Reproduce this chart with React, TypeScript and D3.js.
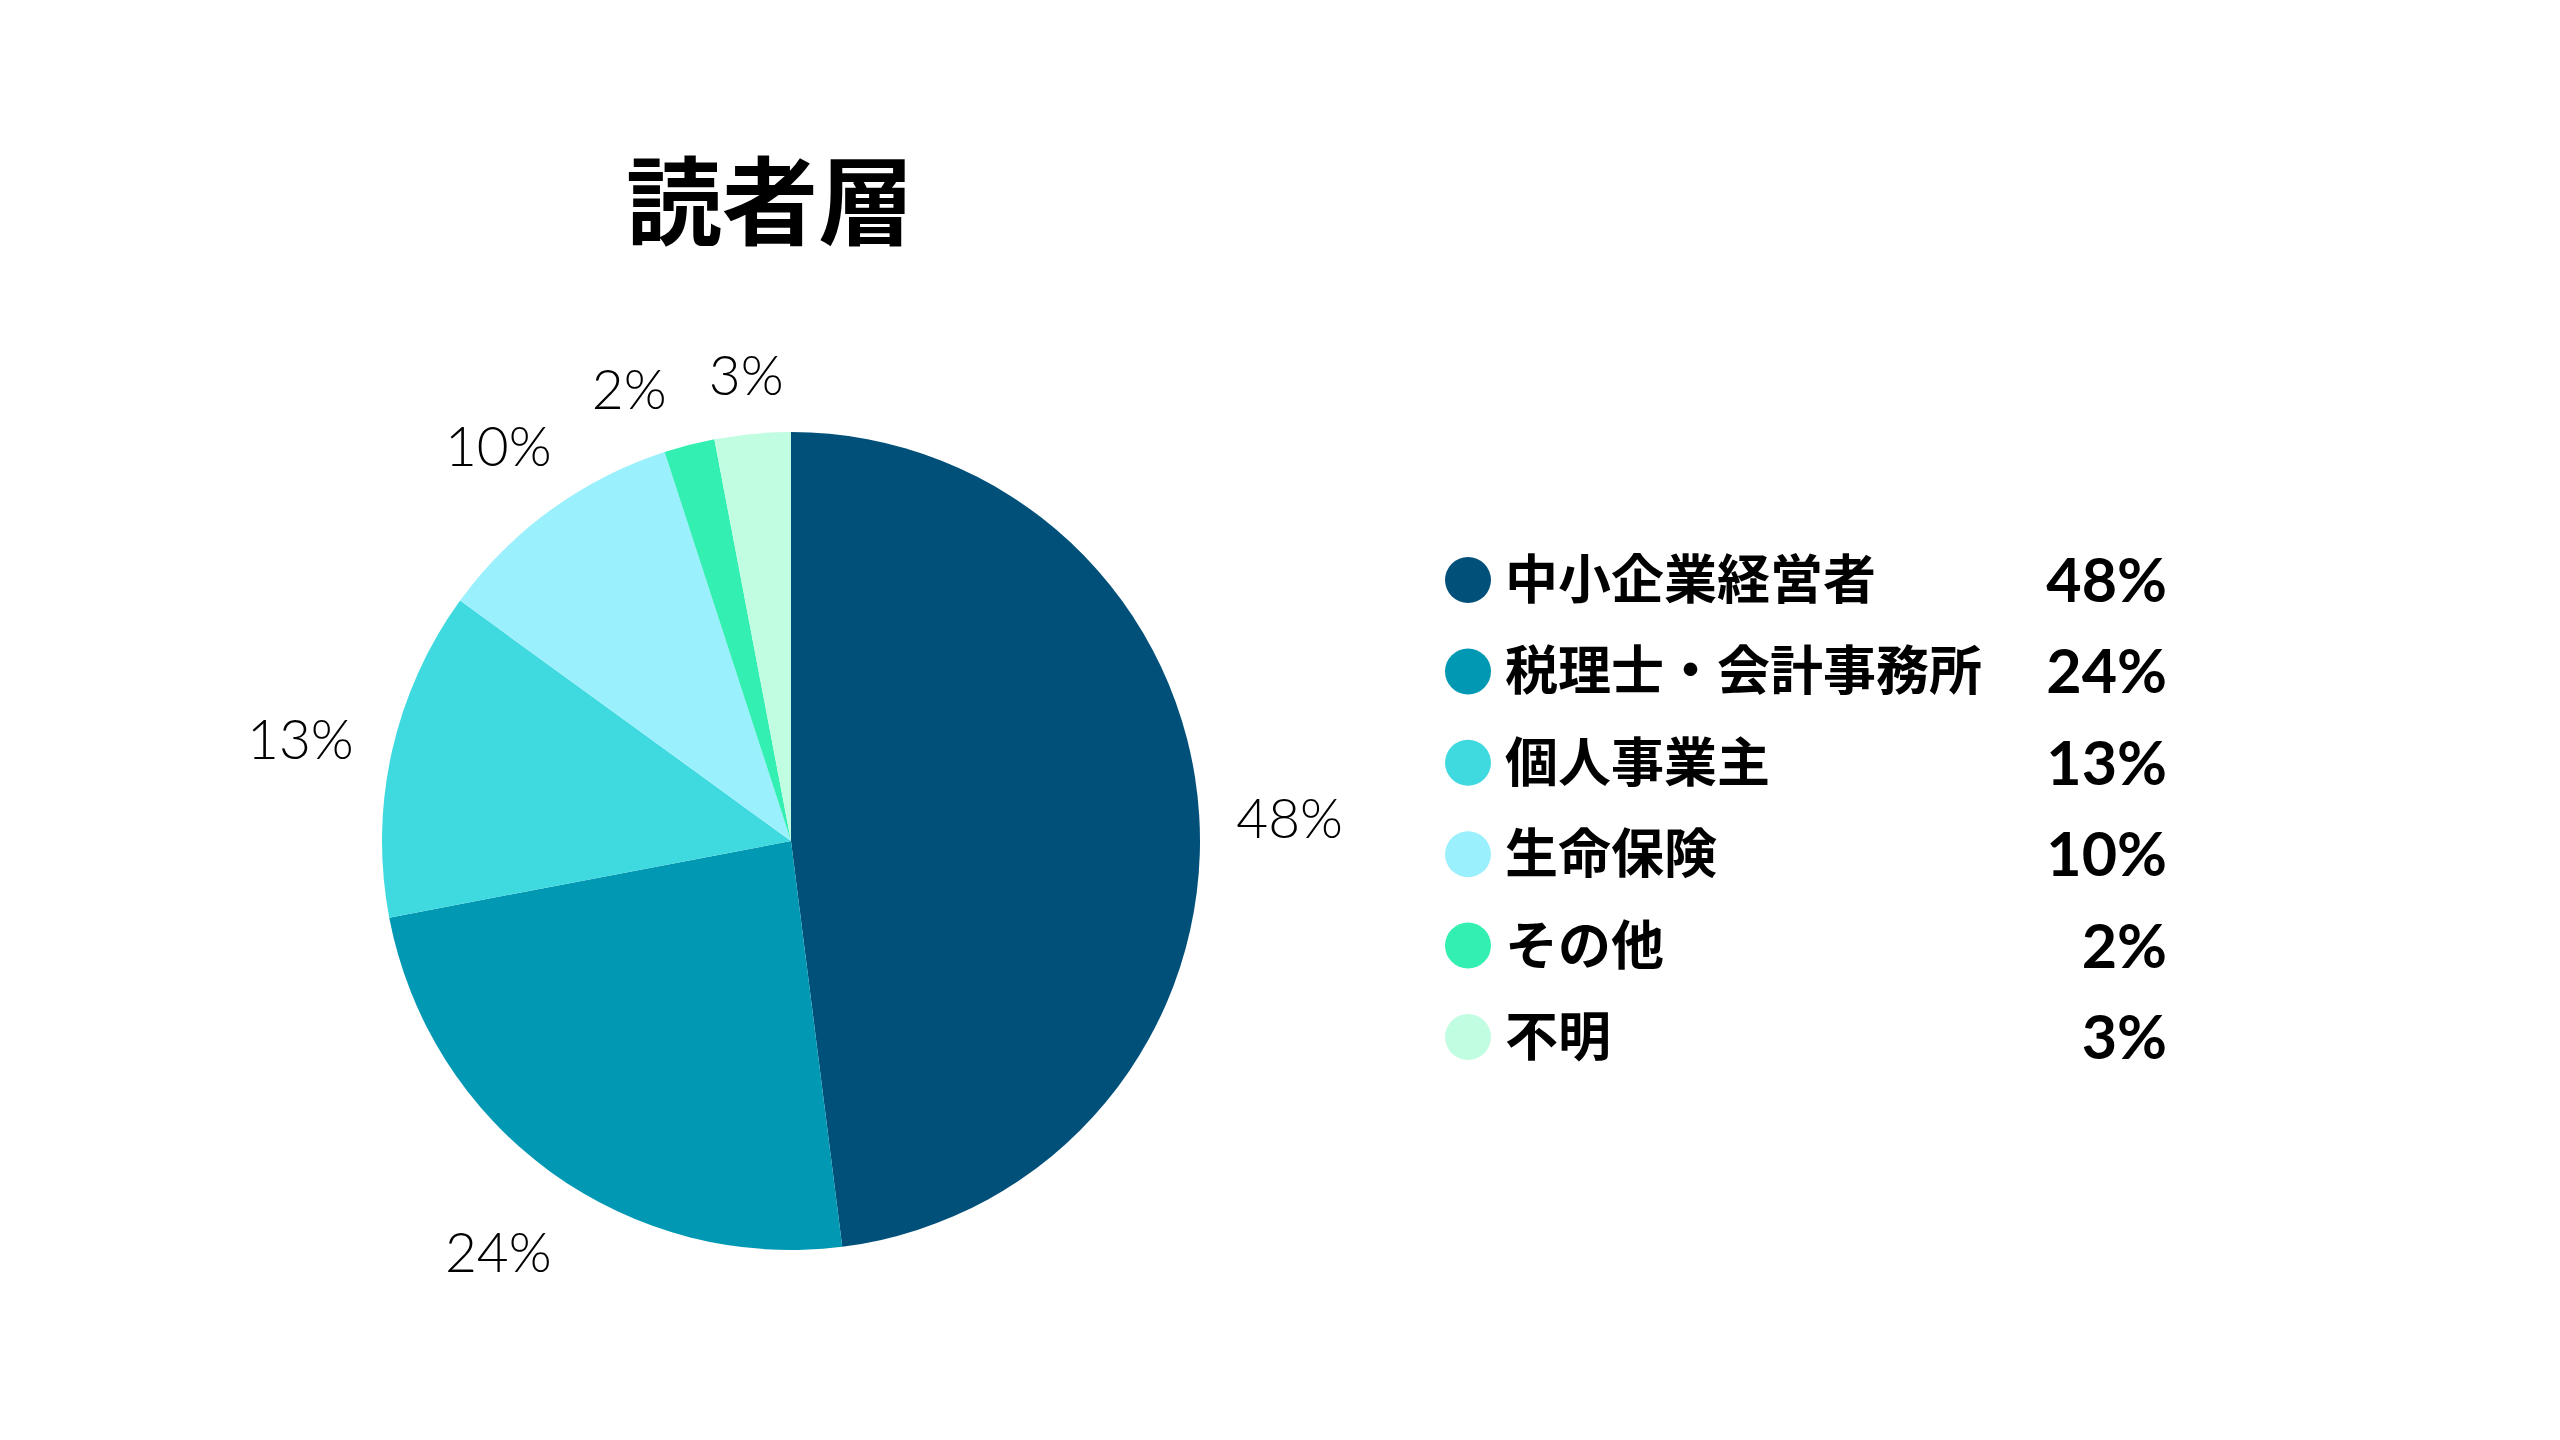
import React, { useEffect, useRef } from 'react';
import * as d3 from 'd3';

// readership breakdown
const categories = ['中小企業経営者', '税理士・会計事務所', '個人事業主', '生命保険', 'その他', '不明'];
const shares = [48, 24, 13, 10, 2, 3];
const colors = ['#00507a', '#0098b3', '#3fd9e0', '#9af0fd', '#33efb2', '#c0fde1'];
const title = '読者層';

const App = () => {
  const ref = useRef<SVGSVGElement | null>(null);

  useEffect(() => {
    const width = 2560;
    const height = 1440;
    const cx = 791;
    const cy = 841;
    const radius = 409;

    const svg = d3.select(ref.current);
    svg.selectAll('*').remove();
    svg.attr('width', width).attr('height', height);

    svg.append('rect').attr('width', width).attr('height', height).attr('fill', '#ffffff');

    svg.append('text')
      .attr('x', 770)
      .attr('y', 237)
      .attr('text-anchor', 'middle')
      .attr('font-family', '"Noto Sans CJK JP", "Noto Sans", sans-serif')
      .attr('font-weight', 700)
      .attr('font-size', 96)
      .attr('fill', '#000')
      .text(title);

    const data = categories.map((c, i) => ({ label: c, value: shares[i], color: colors[i] }));

    const pie = d3.pie<any>().sort(null).value(d => d.value).startAngle(0).endAngle(2 * Math.PI);
    const arcs = pie(data);
    const arc = d3.arc<any>().innerRadius(0).outerRadius(radius);

    const g = svg.append('g').attr('transform', `translate(${cx},${cy})`);

    g.selectAll('path')
      .data(arcs)
      .enter()
      .append('path')
      .attr('d', arc)
      .attr('fill', d => d.data.color);

    // outside labels, kept a fixed gap from the rim
    const gap = 34;
    const boxW = 110;
    const boxH = 56;
    const place = (a: number) => {
      const ux = Math.sin(a);
      const uy = -Math.cos(a);
      const r = radius + gap + Math.abs(ux) * boxW / 2 + Math.abs(uy) * boxH / 2;
      return [ux * r, uy * r];
    };
    const pos = arcs.map(d => place((d.startAngle + d.endAngle) / 2));
    // push a label back (counter-clockwise) while it collides with the next one
    for (let i = arcs.length - 2; i >= 0; i--) {
      let a = (arcs[i].startAngle + arcs[i].endAngle) / 2;
      let p = pos[i];
      const q = pos[i + 1];
      let n = 0;
      while (Math.abs(p[0] - q[0]) < boxW + 6 && Math.abs(p[1] - q[1]) < boxH && n < 300) {
        a -= 0.003;
        p = place(a);
        n++;
      }
      pos[i] = p;
    }

    g.selectAll('text.lbl')
      .data(arcs)
      .enter()
      .append('text')
      .attr('class', 'lbl')
      .attr('x', (d, i) => pos[i][0])
      .attr('y', (d, i) => pos[i][1])
      .attr('text-anchor', 'middle')
      .attr('dy', 28)
      .attr('font-family', 'Lato, "Noto Sans", sans-serif')
      .attr('font-weight', 300)
      .attr('font-size', 55)
      .attr('fill', '#000')
      .text(d => `${d.data.value}%`);

    // legend
    const legendX = 1468;
    const legendY = d3.scaleLinear().domain([0, categories.length - 1]).range([580, 1037]);
    const lg = svg.append('g');
    const rows = lg.selectAll('g')
      .data(data)
      .enter()
      .append('g')
      .attr('transform', (d, i) => `translate(0,${legendY(i)})`);

    rows.append('circle')
      .attr('cx', legendX)
      .attr('cy', 0)
      .attr('r', 23)
      .attr('fill', d => d.color);

    rows.append('text')
      .attr('x', 1505)
      .attr('y', 0)
      .attr('dy', '0.36em')
      .attr('font-family', '"Noto Sans CJK JP", sans-serif')
      .attr('font-weight', 700)
      .attr('font-size', 53)
      .attr('fill', '#000')
      .text(d => d.label);

    rows.append('text')
      .attr('x', 2167)
      .attr('y', 0)
      .attr('dy', '0.36em')
      .attr('text-anchor', 'end')
      .attr('font-family', 'Lato, "Noto Sans", sans-serif')
      .attr('font-weight', 700)
      .attr('font-size', 61)
      .attr('fill', '#000')
      .text(d => `${d.value}%`);
  }, []);

  return (
    <div style={{ position: 'absolute', left: 0, top: 0 }}>
      <svg ref={ref} style={{ display: 'block' }}></svg>
    </div>
  );
};

export default App;
